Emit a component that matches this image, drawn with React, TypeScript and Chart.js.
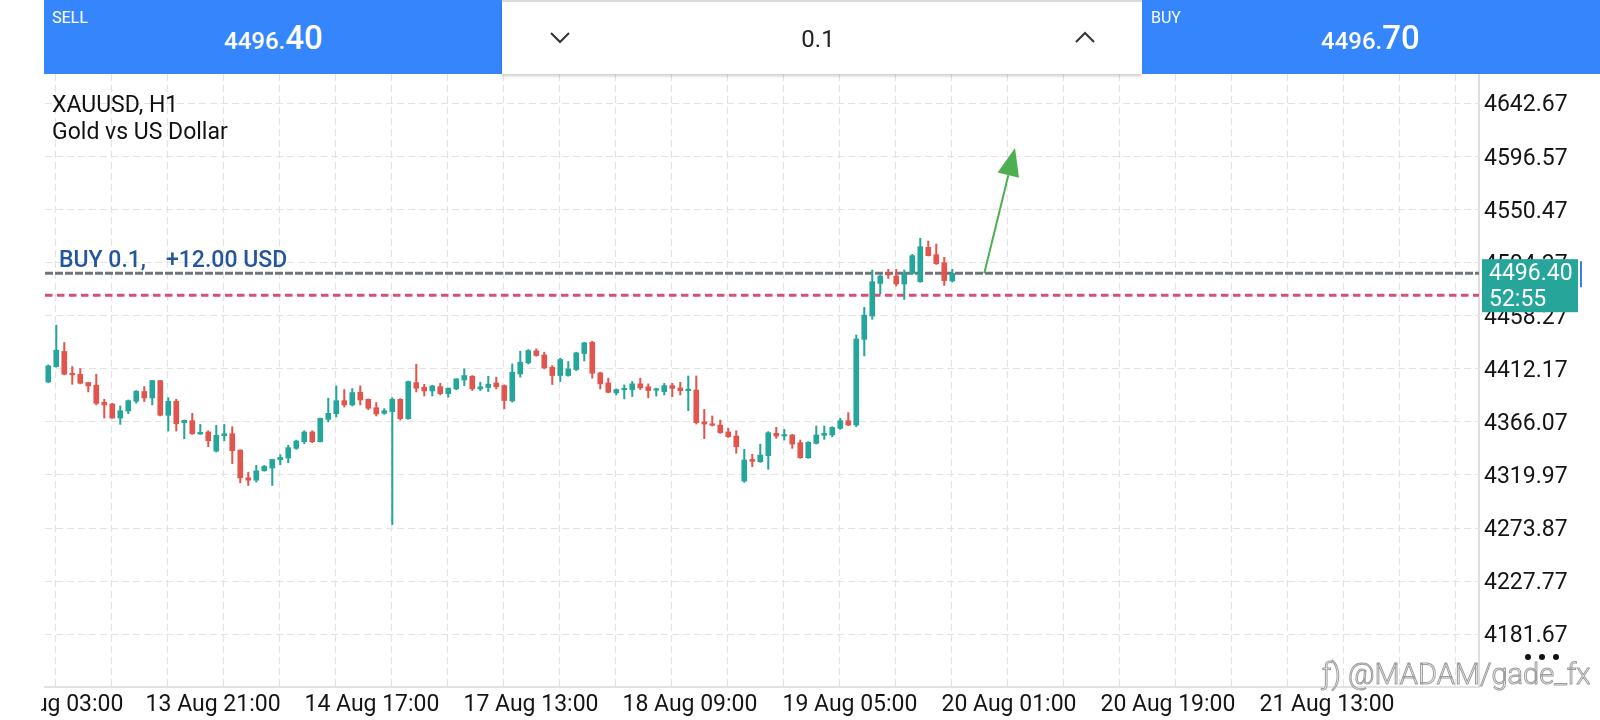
import React, { useEffect, useRef } from 'react';
import { Chart, registerables } from 'chart.js';

Chart.register(...registerables);

// ---- candle data (H1 bars, oldest first) ----
const OPEN = [
  4400.3, 4413.6, 4426.7, 4407.8, 4406.9, 4399.7, 4397.4, 4382.6, 4381.1, 4368.9,
  4375.0, 4383.5, 4391.9, 4386.4, 4401.4, 4371.3, 4383.5, 4364.9, 4366.6, 4355.0,
  4356.8, 4340.2, 4353.6, 4355.3, 4341.1, 4317.0, 4315.0, 4323.1, 4325.5, 4332.7,
  4334.2, 4342.6, 4348.4, 4356.8, 4348.4, 4367.8, 4372.7, 4384.0, 4380.3, 4391.3,
  4385.2, 4377.9, 4373.0, 4374.5, 4385.2, 4368.4, 4399.7, 4395.6, 4392.4, 4396.2,
  4390.1, 4394.2, 4402.0, 4405.2, 4394.2, 4395.4, 4399.4, 4397.1, 4383.8, 4407.2,
  4416.8, 4427.2, 4423.7, 4413.0, 4405.8, 4405.8, 4411.0, 4424.9, 4434.7, 4408.1,
  4399.4, 4390.8, 4393.4, 4393.6, 4398.6, 4396.0, 4393.1, 4391.8, 4397.0, 4395.0,
  4392.7, 4393.2, 4365.7, 4363.7, 4362.8, 4356.8, 4353.3, 4314.2, 4333.0, 4331.0,
  4336.2, 4355.6, 4353.3, 4354.2, 4347.5, 4334.5, 4346.9, 4353.9, 4354.2, 4360.0,
  4366.6, 4362.8, 4437.2, 4457.5, 4485.8, 4494.5, 4492.2, 4485.3, 4494.5, 4487.3,
  4517.1, 4510.7, 4503.8, 4487.9,
];
const HIGH = [
  4415.0, 4449.6, 4434.5, 4413.6, 4411.9, 4399.9, 4406.9, 4385.2, 4381.7, 4379.4,
  4384.6, 4392.7, 4396.2, 4401.6, 4401.6, 4386.6, 4385.2, 4367.2, 4373.0, 4363.4,
  4357.9, 4362.6, 4363.4, 4361.4, 4341.3, 4321.9, 4327.8, 4327.8, 4333.2, 4337.1,
  4345.2, 4349.8, 4357.9, 4357.9, 4368.9, 4386.1, 4396.8, 4393.6, 4394.5, 4396.8,
  4385.5, 4382.3, 4377.1, 4386.6, 4385.8, 4401.1, 4415.6, 4398.2, 4397.4, 4399.1,
  4395.0, 4403.0, 4411.6, 4405.8, 4400.0, 4405.2, 4404.4, 4397.7, 4415.9, 4426.9,
  4428.4, 4429.0, 4426.1, 4414.5, 4420.9, 4418.0, 4426.1, 4434.7, 4435.6, 4408.7,
  4403.5, 4394.2, 4397.7, 4400.6, 4403.5, 4398.6, 4394.8, 4399.0, 4399.0, 4399.9,
  4405.4, 4405.4, 4376.4, 4370.7, 4367.2, 4360.0, 4357.9, 4341.7, 4337.4, 4346.3,
  4357.1, 4360.8, 4359.1, 4354.7, 4349.8, 4348.4, 4362.0, 4362.0, 4361.4, 4368.6,
  4373.6, 4441.0, 4465.0, 4497.4, 4493.1, 4498.0, 4498.0, 4497.4, 4511.0, 4524.9,
  4522.6, 4520.0, 4508.4, 4498.0,
];
const LOW = [
  4399.5, 4413.0, 4406.4, 4398.2, 4398.5, 4391.6, 4380.3, 4368.9, 4368.7, 4363.4,
  4372.7, 4381.7, 4383.2, 4380.3, 4370.7, 4357.6, 4357.6, 4350.9, 4354.7, 4354.7,
  4344.0, 4339.4, 4349.2, 4329.2, 4312.7, 4310.4, 4313.3, 4322.8, 4310.4, 4328.4,
  4330.1, 4341.7, 4346.6, 4347.5, 4348.1, 4365.5, 4369.8, 4378.5, 4379.4, 4380.3,
  4376.2, 4370.7, 4372.1, 4276.4, 4367.2, 4367.8, 4391.6, 4388.1, 4388.1, 4389.0,
  4387.0, 4393.4, 4397.1, 4392.8, 4392.8, 4391.9, 4394.2, 4376.9, 4382.7, 4404.4,
  4415.9, 4422.6, 4411.6, 4398.0, 4400.6, 4405.2, 4410.1, 4418.5, 4403.5, 4394.2,
  4390.8, 4389.0, 4385.5, 4387.6, 4393.6, 4386.4, 4387.9, 4388.9, 4387.5, 4388.9,
  4375.3, 4363.7, 4351.0, 4362.0, 4355.6, 4352.1, 4338.3, 4313.0, 4326.7, 4330.4,
  4324.4, 4351.3, 4349.8, 4342.6, 4333.9, 4333.9, 4346.3, 4350.4, 4352.7, 4359.1,
  4362.3, 4361.4, 4422.8, 4454.6, 4476.6, 4490.2, 4483.5, 4471.9, 4493.9, 4486.7,
  4509.6, 4502.3, 4484.1, 4487.0,
];
const CLOSE = [
  4414.2, 4427.8, 4406.9, 4406.4, 4399.1, 4396.8, 4381.7, 4380.3, 4368.9, 4375.3,
  4384.0, 4392.2, 4386.4, 4401.4, 4371.3, 4383.5, 4364.0, 4366.9, 4355.3, 4356.5,
  4349.2, 4353.9, 4355.3, 4340.5, 4317.0, 4315.0, 4323.1, 4326.9, 4333.0, 4334.7,
  4343.2, 4349.0, 4356.8, 4348.4, 4368.7, 4373.0, 4384.0, 4380.3, 4391.0, 4384.6,
  4377.4, 4372.4, 4375.3, 4385.2, 4368.4, 4400.6, 4394.8, 4392.4, 4396.8, 4390.1,
  4394.8, 4402.9, 4405.8, 4394.2, 4396.0, 4398.3, 4396.0, 4384.1, 4408.7, 4417.4,
  4427.5, 4423.2, 4412.5, 4405.8, 4419.7, 4411.6, 4425.5, 4434.2, 4407.8, 4398.6,
  4391.3, 4393.6, 4394.2, 4398.6, 4395.1, 4392.8, 4393.9, 4397.0, 4394.7, 4392.7,
  4393.2, 4364.9, 4363.7, 4362.6, 4356.2, 4352.7, 4344.0, 4332.5, 4331.3, 4336.8,
  4356.2, 4353.3, 4354.2, 4346.3, 4334.5, 4347.8, 4354.2, 4355.6, 4360.8, 4366.6,
  4362.8, 4437.5, 4458.3, 4487.3, 4492.2, 4493.1, 4485.3, 4494.5, 4509.9, 4517.7,
  4509.9, 4502.9, 4488.2, 4494.5,
];

// ---- axis ticks ----
const X_TICK_POS = [0.96, 20.6, 40.46, 60.34, 80.21, 100.21, 120.09, 139.96, 159.84];
const X_TICK_LABELS = [
  '13 Aug 03:00', '13 Aug 21:00', '14 Aug 17:00', '17 Aug 13:00', '18 Aug 09:00',
  '19 Aug 05:00', '20 Aug 01:00', '20 Aug 19:00', '21 Aug 13:00',
];
const Y_TICKS = [
  4642.67, 4596.57, 4550.47, 4504.37, 4458.27, 4412.17, 4366.07, 4319.97, 4273.87, 4227.77, 4181.67,
];
const X_MIN = -0.41;
const X_MAX = 178.84;
const Y_MIN = 4135.4;
const Y_MAX = 4667.6;
const GRID_START = 0.84;
const GRID_STEP = 7;

// ---- levels / annotations ----
const BID = 4496.4;
const BUY_LEVEL = 4494.6;
const PINK_LEVEL = 4475.5;
const ARROW_FROM = [117, 4494.6];
const ARROW_TO = [120.84, 4603.4];
const COUNTDOWN = '52:55';
const TRADE_TEXT = 'BUY 0.1,';
const PROFIT_TEXT = '+12.00 USD';

const UP = '#26a69a';
const DOWN = '#e0564f';
const BLUE = '#3586fd';

const overlay = {
  id: 'overlay',
  beforeDatasetsDraw(chart: any) {
    const { ctx, chartArea: ca, scales } = chart;
    const x = scales.x;
    const y = scales.y;
    ctx.save();
    ctx.beginPath();
    ctx.rect(ca.left, ca.top, ca.right - ca.left, ca.bottom - ca.top);
    ctx.clip();
    ctx.strokeStyle = '#e3e3e3';
    ctx.lineWidth = 1.2;
    ctx.setLineDash([7, 4]);
    for (const v of Y_TICKS) {
      const py = Math.round(y.getPixelForValue(v)) + 0.5;
      ctx.beginPath();
      ctx.moveTo(ca.left, py);
      ctx.lineTo(ca.right, py);
      ctx.stroke();
    }
    for (let g = GRID_START; g <= X_MAX; g += GRID_STEP) {
      const px = Math.round(x.getPixelForValue(g)) + 0.5;
      ctx.beginPath();
      ctx.moveTo(px, ca.top);
      ctx.lineTo(px, ca.bottom);
      ctx.stroke();
    }
    // pink level
    const pp = y.getPixelForValue(PINK_LEVEL);
    ctx.strokeStyle = '#d94c80';
    ctx.lineWidth = 3;
    ctx.setLineDash([7.5, 4.5]);
    ctx.beginPath();
    ctx.moveTo(ca.left, pp);
    ctx.lineTo(ca.right, pp);
    ctx.stroke();
    // buy level
    const bp = y.getPixelForValue(BUY_LEVEL);
    ctx.strokeStyle = '#6f757b';
    ctx.lineWidth = 3;
    ctx.setLineDash([8, 2]);
    ctx.beginPath();
    ctx.moveTo(ca.left, bp);
    ctx.lineTo(ca.right, bp);
    ctx.stroke();
    ctx.restore();
  },
  afterDraw(chart: any) {
    const { ctx, chartArea: ca, scales } = chart;
    const x = scales.x;
    const y = scales.y;
    ctx.save();
    // trade label
    const bp = y.getPixelForValue(BUY_LEVEL);
    ctx.font = '500 23px Roboto';
    ctx.fillStyle = '#24569f';
    ctx.textBaseline = 'middle';
    ctx.textAlign = 'left';
    ctx.fillText(TRADE_TEXT, ca.left + 14, bp - 12);
    ctx.fillText(PROFIT_TEXT, ca.left + 121, bp - 12);

    // arrow
    const x0 = x.getPixelForValue(ARROW_FROM[0]);
    const y0 = y.getPixelForValue(ARROW_FROM[1]);
    const x1 = x.getPixelForValue(ARROW_TO[0]);
    const y1 = y.getPixelForValue(ARROW_TO[1]);
    const dx = x1 - x0;
    const dy = y1 - y0;
    const len = Math.sqrt(dx * dx + dy * dy);
    const ux = dx / len;
    const uy = dy / len;
    const bx = x1 - ux * 28;
    const by = y1 - uy * 28;
    ctx.strokeStyle = '#4caf50';
    ctx.fillStyle = '#4caf50';
    ctx.lineWidth = 2;
    ctx.beginPath();
    ctx.moveTo(x0, y0);
    ctx.lineTo(bx, by);
    ctx.stroke();
    ctx.beginPath();
    ctx.moveTo(x1, y1);
    ctx.lineTo(bx - uy * 11, by + ux * 11);
    ctx.lineTo(bx + uy * 11, by - ux * 11);
    ctx.closePath();
    ctx.fill();

    // price box
    const py = y.getPixelForValue(BID);
    const left = ca.right + 3;
    ctx.fillStyle = UP;
    ctx.fillRect(left, py - 12, 96, 53);
    ctx.fillStyle = '#ffffff';
    ctx.font = '23px Roboto';
    ctx.textBaseline = 'middle';
    ctx.fillText(BID.toFixed(2), left + 7, py + 3);
    ctx.fillText(COUNTDOWN, left + 7, py + 29);
    ctx.strokeStyle = '#3d7fe0';
    ctx.lineWidth = 2;
    ctx.beginPath();
    ctx.moveTo(left + 99, py - 10);
    ctx.lineTo(left + 99, py + 16);
    ctx.stroke();
    ctx.restore();
  },
};

function Chevron({ up }: { up: boolean }) {
  return (
    <svg width="20" height="12" viewBox="0 0 20 12" style={{ display: 'block' }}>
      <polyline
        points={up ? '1,11 10,2 19,11' : '1,1 10,10 19,1'}
        fill="none"
        stroke="#333"
        strokeWidth="2"
      />
    </svg>
  );
}

export default function App() {
  const ref = useRef<HTMLCanvasElement | null>(null);

  useEffect(() => {
    if (!ref.current) return;
    const idx = OPEN.map((_, i) => i);
    const colors = idx.map((i) => (CLOSE[i] >= OPEN[i] ? UP : DOWN));
    const chart = new Chart(ref.current, {
      type: 'bar',
      data: {
        datasets: [
          {
            label: 'body',
            data: idx.map((i) => ({ x: i, y: [OPEN[i], CLOSE[i]] })) as any,
            backgroundColor: colors,
            barThickness: 5,
            minBarLength: 1.5,
            grouped: false,
            order: 0,
          } as any,
          {
            label: 'wick',
            data: idx.map((i) => ({ x: i, y: [LOW[i], HIGH[i]] })) as any,
            backgroundColor: colors,
            barThickness: 1.4,
            grouped: false,
            order: 1,
          } as any,
        ],
      },
      options: {
        responsive: false,
        animation: false,
        layout: { padding: { left: 4, top: 74, right: 0, bottom: 0 } },
        plugins: { legend: { display: false }, tooltip: { enabled: false } },
        scales: {
          x: {
            type: 'linear',
            min: X_MIN,
            max: X_MAX,
            offset: false,
            afterBuildTicks: (s: any) => {
              s.ticks = X_TICK_POS.map((v) => ({ value: v }));
            },
            afterFit: (s: any) => {
              s.height = 33;
              s.paddingLeft = 0;
              s.paddingRight = 0;
            },
            ticks: {
              autoSkip: false,
              maxRotation: 0,
              minRotation: 0,
              padding: 4,
              color: '#151515',
              font: { family: 'Roboto', size: 23 },
              callback: (_v: any, i: number) => X_TICK_LABELS[i],
            },
            grid: { drawOnChartArea: false, drawTicks: false },
            border: { display: true, color: '#e2e2e2', width: 2 },
          },
          y: {
            type: 'linear',
            position: 'right',
            min: Y_MIN,
            max: Y_MAX,
            afterBuildTicks: (s: any) => {
              s.ticks = Y_TICKS.map((v) => ({ value: v }));
            },
            afterFit: (s: any) => {
              s.width = 121;
              s.paddingTop = 0;
              s.paddingBottom = 0;
            },
            ticks: {
              autoSkip: false,
              padding: 5,
              labelOffset: 3,
              color: '#151515',
              font: { family: 'Roboto', size: 23 },
              callback: (v: any) => Number(v).toFixed(2),
            },
            grid: { drawOnChartArea: false, drawTicks: false },
            border: { display: true, color: '#dedede', width: 2 },
          },
        },
      } as any,
      plugins: [overlay],
    });
    return () => chart.destroy();
  }, []);

  const white = '#ffffff';
  return (
    <div
      style={{
        position: 'fixed',
        left: 0,
        top: 0,
        width: 1600,
        height: 720,
        background: '#fff',
        overflow: 'hidden',
        fontFamily: 'Roboto, sans-serif',
      }}
    >
      <canvas
        ref={ref}
        width={1559}
        height={720}
        style={{ position: 'absolute', left: 41, top: 0, width: 1559, height: 720 }}
      />
      {/* title */}
      <div style={{ position: 'absolute', left: 52, top: 91, fontSize: 23, lineHeight: '27px', color: '#111' }}>
        XAUUSD, H1
      </div>
      <div style={{ position: 'absolute', left: 52, top: 118, fontSize: 23, lineHeight: '27px', color: '#111' }}>
        Gold vs US Dollar
      </div>
      {/* SELL */}
      <div style={{ position: 'absolute', left: 44, top: 0, width: 458, height: 74, background: BLUE }}>
        <div style={{ position: 'absolute', left: 8, top: 8, fontSize: 16, lineHeight: '20px', color: white }}>SELL</div>
        <div
          style={{
            position: 'absolute',
            left: 180,
            top: 21,
            display: 'flex',
            alignItems: 'baseline',
            color: white,
            fontWeight: 500,
            lineHeight: 1,
          }}
        >
          <span style={{ fontSize: 24 }}>4496.</span>
          <span style={{ fontSize: 33 }}>40</span>
        </div>
      </div>
      {/* volume */}
      <div
        style={{
          position: 'absolute',
          left: 502,
          top: 0,
          width: 640,
          height: 72,
          background: '#fff',
          borderTop: '2px solid #dadada',
          boxShadow: '0 2px 3px rgba(0,0,0,0.2)',
        }}
      >
        <div style={{ position: 'absolute', left: 48, top: 30 }}>
          <Chevron up={false} />
        </div>
        <div
          style={{
            position: 'absolute',
            left: 286,
            width: 60,
            top: 22,
            textAlign: 'center',
            fontSize: 24,
            lineHeight: '30px',
            color: '#222',
          }}
        >
          0.1
        </div>
        <div style={{ position: 'absolute', left: 573, top: 29 }}>
          <Chevron up={true} />
        </div>
      </div>
      {/* BUY */}
      <div style={{ position: 'absolute', left: 1142, top: 0, width: 458, height: 74, background: BLUE }}>
        <div style={{ position: 'absolute', left: 9, top: 8, fontSize: 16, lineHeight: '20px', color: white }}>BUY</div>
        <div
          style={{
            position: 'absolute',
            left: 179,
            top: 21,
            display: 'flex',
            alignItems: 'baseline',
            color: white,
            fontWeight: 500,
            lineHeight: 1,
          }}
        >
          <span style={{ fontSize: 24 }}>4496.</span>
          <span style={{ fontSize: 33 }}>70</span>
        </div>
      </div>
      {/* dots */}
      {[1525, 1539, 1553].map((l) => (
        <div
          key={l}
          style={{ position: 'absolute', left: l, top: 654, width: 6, height: 6, borderRadius: 3, background: '#111' }}
        />
      ))}
      {/* watermark */}
      <div
        style={{
          position: 'absolute',
          left: 1322,
          top: 657,
          fontSize: 29,
          lineHeight: '34px',
          fontWeight: 300,
          color: 'rgba(255,255,255,0.85)',
          WebkitTextStroke: '1px #9c9c9c',
          whiteSpace: 'nowrap',
        }}
      >
        ƒ) @MADAM/gade_fx
      </div>
    </div>
  );
}
